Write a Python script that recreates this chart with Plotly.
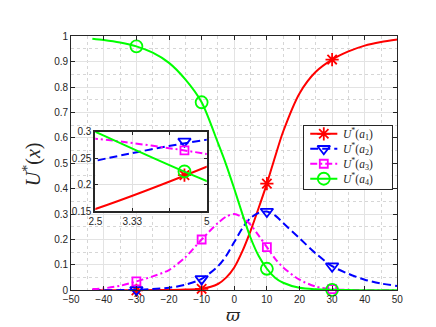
import plotly.graph_objects as go

w = [-43.5, -40, -35, -30, -25, -20, -15, -10, -5, -2.5, 0, 2.5, 5, 7.5, 10,
     12.5, 15, 20, 25, 30, 35, 40, 45, 50]
u_a1 = [0.000, 0.000, 0.000, 0.000, 0.001, 0.001, 0.003, 0.006, 0.025, 0.050, 0.090, 0.154,
        0.234, 0.325, 0.420, 0.525, 0.625, 0.775, 0.860, 0.908, 0.940, 0.963, 0.977, 0.987]
u_a2 = [0.000, 0.000, 0.001, 0.002, 0.005, 0.010, 0.022, 0.045, 0.095, 0.135, 0.190, 0.245,
        0.285, 0.305, 0.310, 0.295, 0.265, 0.205, 0.145, 0.095, 0.065, 0.042, 0.027, 0.017]
u_a3 = [0.005, 0.008, 0.018, 0.035, 0.055, 0.080, 0.130, 0.200, 0.265, 0.290, 0.300, 0.287,
        0.258, 0.215, 0.170, 0.125, 0.090, 0.042, 0.015, 0.005, 0.002, 0.001, 0.000, 0.000]
u_a4 = [0.990, 0.985, 0.975, 0.960, 0.935, 0.895, 0.830, 0.740, 0.580, 0.495, 0.400, 0.300,
        0.207, 0.135, 0.085, 0.050, 0.030, 0.010, 0.004, 0.002, 0.001, 0.000, 0.000, 0.000]

marker_w = [-30, -10, 10, 30]
inset_w = [4.5]
inset_a1 = [0.218]
inset_a2 = [0.282]
inset_a3 = [0.265]
inset_a4 = [0.225]

names = ['<i>U</i><sup>*</sup>(<i>a</i><sub>1</sub>)', '<i>U</i><sup>*</sup>(<i>a</i><sub>2</sub>)',
         '<i>U</i><sup>*</sup>(<i>a</i><sub>3</sub>)', '<i>U</i><sup>*</sup>(<i>a</i><sub>4</sub>)']

styles = [
    (u_a1, inset_a1, '#ff0000', 'solid', 'asterisk-open', 11),
    (u_a2, inset_a2, '#0000ff', '8px,4px', 'triangle-down-open', 11),
    (u_a3, inset_a3, '#ff00ff', '7px,3px,2px,3px', 'square-open', 8),
    (u_a4, inset_a4, '#00ff00', 'solid', 'circle-open', 12),
]

axcol = '#262626'
serif = 'Liberation Serif, DejaVu Serif'
tickfont = dict(family='Liberation Sans, Arial', size=10, color=axcol)

fig = go.Figure()
legend_notes = []
for i, (name, (u, ins, col, dash, sym, sz)) in enumerate(zip(names, styles)):
    line = dict(color=col, width=2, dash=dash, shape='spline', smoothing=0.8)
    mk = dict(symbol=sym, size=sz, color=col, line=dict(color=col, width=1.8))
    fig.add_trace(go.Scatter(x=w, y=u, mode='lines', line=line, name=name, showlegend=False))
    fig.add_trace(go.Scatter(x=marker_w, y=[u[w.index(v)] for v in marker_w], mode='markers',
                             marker=mk, cliponaxis=False, showlegend=False))
    # zoomed inset
    fig.add_trace(go.Scatter(x=w, y=u, mode='lines', line=line, showlegend=False,
                             xaxis='x2', yaxis='y2'))
    fig.add_trace(go.Scatter(x=inset_w, y=ins, mode='markers', marker=mk, showlegend=False,
                             xaxis='x2', yaxis='y2'))
    # legend box drawn on its own small axes (pixel units inside the box)
    row = 8 + 15.5 * i
    fig.add_trace(go.Scatter(x=[6, 34], y=[row, row], mode='lines',
                             line=dict(color=col, width=2, dash=dash), showlegend=False,
                             xaxis='x3', yaxis='y3'))
    fig.add_trace(go.Scatter(x=[20], y=[row], mode='markers', marker=mk, showlegend=False,
                             cliponaxis=False, xaxis='x3', yaxis='y3'))
    legend_notes.append(dict(text=name, xref='x3', yref='y3', x=38, y=row, xanchor='left',
                             yanchor='middle', showarrow=False,
                             font=dict(family=serif, size=11.5, color=axcol)))

fig.update_layout(
    width=436, height=327,
    margin=dict(l=0, r=0, t=0, b=0),
    paper_bgcolor='white', plot_bgcolor='white',
    showlegend=False,
    xaxis=dict(domain=[0.1307, 0.9037], range=[-50, 50], dtick=10, tick0=0,
               showline=True, linecolor=axcol, linewidth=1, mirror='ticks',
               ticks='inside', ticklen=4, tickcolor=axcol, tickfont=tickfont,
               showgrid=True, gridcolor='#e3e3e3', gridwidth=1, zeroline=False,
               minor=dict(dtick=5, showgrid=True, gridcolor='#d6d6d6', griddash='dot')),
    yaxis=dict(domain=[0.1223, 0.9266], range=[0, 1], dtick=0.1, tick0=0,
               showline=True, linecolor=axcol, linewidth=1, mirror='ticks',
               ticks='inside', ticklen=4, tickcolor=axcol, tickfont=tickfont,
               showgrid=True, gridcolor='#e3e3e3', gridwidth=1, zeroline=False,
               minor=dict(dtick=0.05, showgrid=True, gridcolor='#d6d6d6', griddash='dot')),
    xaxis2=dict(domain=[0.188, 0.452], range=[2.5, 5], anchor='y2',
                tickvals=[2.5, 3.33, 4.17, 5], ticktext=['2.5', '3.33', '', '5'],
                showline=True, linecolor=axcol, linewidth=2, mirror='ticks',
                ticks='inside', ticklen=3, tickcolor=axcol, tickfont=tickfont,
                showgrid=True, gridcolor='#e0e0e0', zeroline=False),
    yaxis2=dict(domain=[0.373, 0.624], range=[0.15, 0.3], anchor='x2',
                tickvals=[0.15, 0.2, 0.25, 0.3], ticktext=['0.15', '0.2', '0.25', '0.3'],
                showline=True, linecolor=axcol, linewidth=2, mirror='ticks',
                ticks='inside', ticklen=3, tickcolor=axcol, tickfont=tickfont,
                showgrid=True, gridcolor='#e0e0e0', zeroline=False),
    xaxis3=dict(domain=[298 / 436, 388 / 436], range=[0, 90], anchor='y3',
                showline=True, linecolor=axcol, linewidth=1, mirror=True,
                showgrid=False, zeroline=False, showticklabels=False, ticks=''),
    yaxis3=dict(domain=[1 - 182 / 327, 1 - 117 / 327], range=[65, 0], anchor='x3',
                showline=True, linecolor=axcol, linewidth=1, mirror=True,
                showgrid=False, zeroline=False, showticklabels=False, ticks=''),
    annotations=legend_notes + [
        dict(text='<i>U</i><sup>*</sup>(<i>x</i>)', xref='paper', yref='paper',
             x=17 / 436, y=1 - 156 / 327, xanchor='center', yanchor='middle',
             textangle=-90, showarrow=False,
             font=dict(family=serif, size=20, color=axcol)),
        dict(text='<i>ϖ</i>', xref='paper', yref='paper',
             x=225 / 436, y=1 - 313 / 327, xanchor='center', yanchor='middle',
             showarrow=False,
             font=dict(family='DejaVu Serif, Liberation Serif', size=17, color=axcol)),
    ],
)

fig.write_html("out.html")
